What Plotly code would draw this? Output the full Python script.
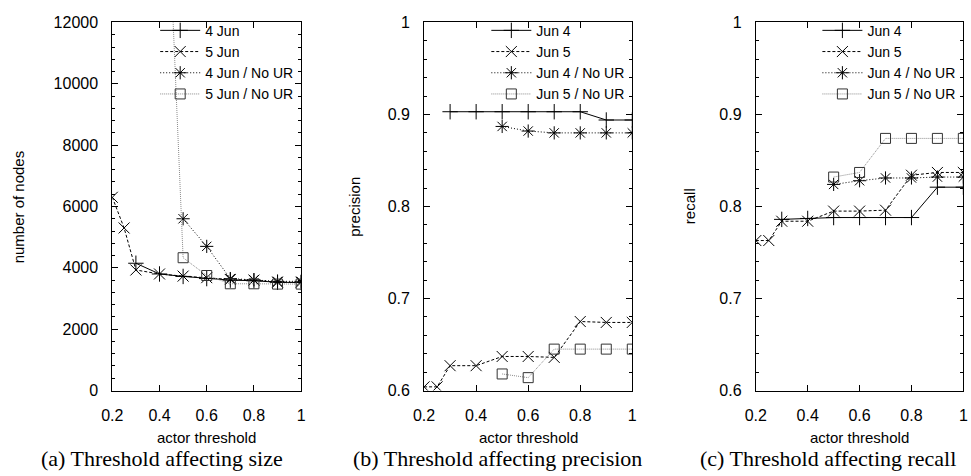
import plotly.graph_objects as go

# ---------------- data ----------------
x_jun5 = [0.2, 0.25, 0.3, 0.4, 0.5, 0.6, 0.7, 0.8, 0.9, 1.0]
x_jun4 = [0.3, 0.4, 0.5, 0.6, 0.7, 0.8, 0.9, 1.0]
x_nour = [0.5, 0.6, 0.7, 0.8, 0.9, 1.0]
x_nour5_size = [0.4, 0.5, 0.6, 0.7, 0.8, 0.9, 1.0]

size_jun4 = [4150, 3800, 3720, 3650, 3600, 3580, 3530, 3520]
size_jun5 = [6300, 5300, 3930, 3800, 3730, 3680, 3620, 3600, 3530, 3530]
size_jun4_nour = [5600, 4700, 3650, 3610, 3560, 3560]
size_jun5_nour = [22500, 4330, 3750, 3480, 3480, 3470, 3470]

prec_jun4 = [0.903, 0.903, 0.903, 0.903, 0.903, 0.903, 0.894, 0.894]
prec_jun5 = [0.604, 0.604, 0.627, 0.627, 0.637, 0.637, 0.636, 0.675, 0.674, 0.674]
prec_jun4_nour = [0.887, 0.882, 0.880, 0.880, 0.880, 0.880]
prec_jun5_nour = [0.618, 0.614, 0.645, 0.645, 0.645, 0.645]

rec_jun4 = [0.786, 0.787, 0.788, 0.788, 0.788, 0.788, 0.821, 0.821]
rec_jun5 = [0.763, 0.763, 0.784, 0.784, 0.795, 0.795, 0.796, 0.834, 0.837, 0.837]
rec_jun4_nour = [0.824, 0.828, 0.831, 0.831, 0.832, 0.832]
rec_jun5_nour = [0.832, 0.837, 0.874, 0.874, 0.874, 0.874]

names_a = ["4 Jun", "5 Jun", "4 Jun / No UR", "5 Jun / No UR"]
names_bc = ["Jun 4", "Jun 5", "Jun 4 / No UR", "Jun 5 / No UR"]
captions = ["(a) Threshold affecting size",
            "(b) Threshold affecting precision",
            "(c) Threshold affecting recall"]
ytitles = ["number of nodes", "precision", "recall"]
xtitle = "actor threshold"

# ---------------- styles ----------------
W, H = 971, 476
SANS = "Liberation Sans, Arial, sans-serif"
SERIF = "Liberation Serif, Times New Roman, serif"
styles = [
    dict(line=dict(color="black", width=1), marker=dict(symbol="cross-thin-open", size=11, line=dict(color="black", width=1))),
    dict(line=dict(color="black", width=1, dash="3px,2px"), marker=dict(symbol="x-thin-open", size=11, line=dict(color="black", width=1))),
    dict(line=dict(color="black", width=1, dash="1px,2px"), marker=dict(symbol="asterisk-open", size=11, line=dict(color="black", width=1))),
    dict(line=dict(color="#8a8a8a", width=1, dash="1px,1px"), marker=dict(symbol="square-open", size=10, color="#333", line=dict(color="#333", width=1))),
]

def px(v):
    return v / W

def py(v):
    return 1 - v / H

domains_x = [[px(103), px(295)], [px(420), px(631.7)], [px(757.3), px(968.3)]]
dom_y = [py(396.7), py(15)]

fig = go.Figure()

panels = [
    (names_a, [(x_jun4, size_jun4), (x_jun5, size_jun5), (x_nour, size_jun4_nour), (x_nour5_size, size_jun5_nour)]),
    (names_bc, [(x_jun4, prec_jun4), (x_jun5, prec_jun5), (x_nour, prec_jun4_nour), (x_nour, prec_jun5_nour)]),
    (names_bc, [(x_jun4, rec_jun4), (x_jun5, rec_jun5), (x_nour, rec_jun4_nour), (x_nour, rec_jun5_nour)]),
]

for i, (names, series) in enumerate(panels):
    xa = "x" if i == 0 else f"x{i+1}"
    ya = "y" if i == 0 else f"y{i+1}"
    lg = "legend" if i == 0 else f"legend{i+1}"
    for j, (xs, ys) in enumerate(series):
        fig.add_trace(go.Scatter(x=xs, y=ys, mode="lines+markers", name=names[j],
                                 xaxis=xa, yaxis=ya, legend=lg, cliponaxis=True,
                                 **styles[j]))

axis_common = dict(showline=True, linecolor="black", linewidth=1, mirror="ticks",
                   ticks="inside", ticklen=6, tickcolor="black", tickwidth=1,
                   showgrid=False, zeroline=False,
                   tickfont=dict(family=SANS, size=16, color="black"))

yranges = [[0, 12000], [0.6, 1.0], [0.6, 1.0]]
ydticks = [2000, 0.1, 0.1]
yminor = [400, 0.02, 0.02]
yfmt = ["d", "", ""]
layout = {}
for i in range(3):
    sx = "xaxis" if i == 0 else f"xaxis{i+1}"
    sy = "yaxis" if i == 0 else f"yaxis{i+1}"
    yref = "y" if i == 0 else f"y{i+1}"
    xref = "x" if i == 0 else f"x{i+1}"
    layout[sx] = dict(domain=domains_x[i], range=[0.2, 1.0], dtick=0.2, tick0=0.2,
                      anchor=yref, ticklabelstandoff=10, **axis_common)
    layout[sy] = dict(domain=dom_y, range=yranges[i], dtick=ydticks[i], tick0=0,
                      anchor=xref, tickformat=yfmt[i], ticklabelstandoff=10,
                      minor=dict(ticks="inside", ticklen=3, dtick=yminor[i], tickcolor="black"),
                      **axis_common)
    lg = "legend" if i == 0 else f"legend{i+1}"
    layout[lg] = dict(x=domains_x[i][1] - px(3), y=py(7), xanchor="right", yanchor="top",
                      xref="paper", yref="paper", bgcolor="rgba(0,0,0,0)",
                      font=dict(family=SANS, size=14, color="black"),
                      tracegroupgap=0, itemwidth=40)

annotations = []
ytitle_x = [8, 349, 690]
caption_cx = [154, 495, 831]
for i in range(3):
    cx = (domains_x[i][0] + domains_x[i][1]) / 2
    annotations.append(dict(text=xtitle, x=cx, y=py(445), xref="paper", yref="paper",
                            showarrow=False, font=dict(family=SANS, size=15, color="black"),
                            xanchor="center", yanchor="middle"))
    annotations.append(dict(text=captions[i], x=px(caption_cx[i]), y=py(467), xref="paper", yref="paper",
                            showarrow=False, font=dict(family=SERIF, size=22, color="black"),
                            xanchor="center", yanchor="middle"))
    annotations.append(dict(text=ytitles[i], x=px(ytitle_x[i]), y=(dom_y[0] + dom_y[1]) / 2,
                            xref="paper", yref="paper", textangle=-90, showarrow=False,
                            font=dict(family=SANS, size=15, color="black"),
                            xanchor="center", yanchor="middle"))

fig.update_layout(width=W, height=H, margin=dict(l=0, r=0, t=0, b=0),
                  paper_bgcolor="white", plot_bgcolor="white",
                  showlegend=True, annotations=annotations, **layout)

fig.write_html("out.html")
